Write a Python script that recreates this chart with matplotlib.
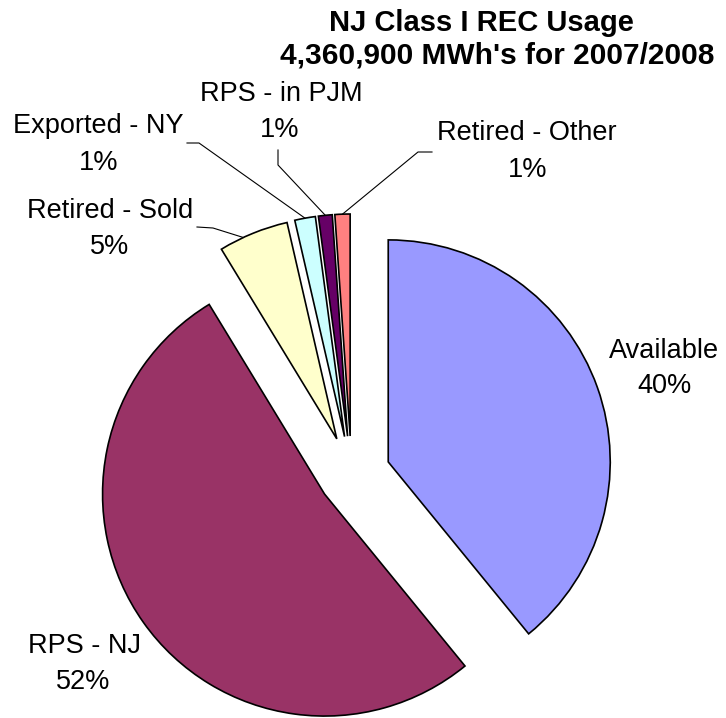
import numpy as np
import matplotlib.pyplot as plt

plt.rcParams['font.family'] = ['Liberation Sans', 'DejaVu Sans']

# data (share of 4,360,900 MWh)
categories = ["Available", "RPS - NJ", "Retired - Sold", "Exported - NY",
              "RPS - in PJM", "Retired - Other"]
shares = [39.1, 52.2, 5.1, 1.5, 1.0, 1.1]
pct_labels = ["40%", "52%", "5%", "1%", "1%", "1%"]
colors = ["#9999FF", "#993366", "#FFFFCC", "#CCFFFF", "#660066", "#FF8080"]

W, H = 726, 718
R = 222
explode = [39, 33, 39, 39, 39, 39]

fig = plt.figure(figsize=(W / 100, H / 100), dpi=100)
ax = fig.add_axes([0, 0, 1, 1])

wedges, _ = ax.pie(shares, colors=colors, explode=explode,
                   startangle=90, counterclock=False, radius=R,
                   center=(351.5, H - 475),
                   wedgeprops=dict(edgecolor="black", linewidth=1.2))
ax.set_xlim(0, W)
ax.set_ylim(0, H)
ax.set_aspect("equal")
ax.axis("off")


def put(x, y, s, **kw):
    # x, y given in pixels from top-left
    ax.text(x, H - y, s, ha="center", va="center", **kw)


# title
put(481, 23, "NJ Class I REC Usage", fontsize=21, weight="bold")
put(497, 56, "4,360,900 MWh's for 2007/2008", fontsize=21.5, weight="bold")

# label positions (name center, percent center) in pixels
label_pos = {
    "Available": ((664, 351), (664, 386)),
    "RPS - NJ": ((84, 646), (83, 682)),
    "Retired - Sold": ((110, 211), (110, 247)),
    "Exported - NY": ((98, 126), (99, 163)),
    "RPS - in PJM": ((281, 94), (280, 130)),
    "Retired - Other": ((527, 133), (528, 170)),
}
for name, pct in zip(categories, pct_labels):
    (nx, ny), (qx, qy) = label_pos[name]
    put(nx, ny, name, fontsize=19.5)
    put(qx, qy, pct, fontsize=19.5)

# leader lines for the thin slices: label end -> elbow -> wedge arc
leaders = {
    "Retired - Sold": ((197, 227), (213, 228), 0.65),
    "Exported - NY": ((187, 143), (199, 143), 0.5),
    "RPS - in PJM": ((278, 150), (278, 165), 0.5),
    "Retired - Other": ((432, 152), (418, 152), 0.5),
}
for w, name in zip(wedges, categories):
    if name not in leaders:
        continue
    (sx, sy), (ex, ey), frac = leaders[name]
    ang = np.deg2rad(w.theta1 + frac * (w.theta2 - w.theta1))
    cx, cy = w.center
    tx = cx + w.r * np.cos(ang)
    ty = cy + w.r * np.sin(ang)
    ax.plot([sx, ex, tx], [H - sy, H - ey, ty], color="black", lw=0.8)

plt.savefig("out.png", dpi=100)
plt.close(fig)
